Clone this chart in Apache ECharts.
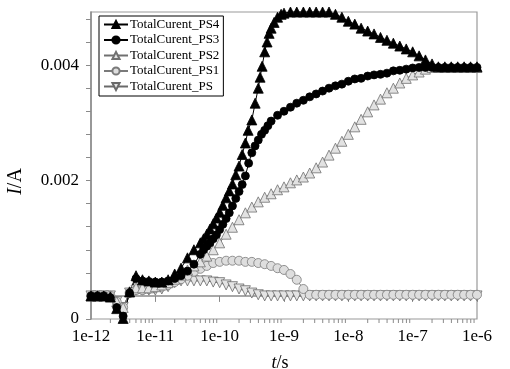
<!DOCTYPE html>
<html>
<head>
<meta charset="utf-8">
<script src="https://cdn.jsdelivr.net/npm/echarts@6/dist/echarts.min.js"></script>
<style>
html,body{margin:0;padding:0;background:#fff;}
#chart{width:510px;height:369px;}
</style>
</head>
<body>
<div id="chart"></div>
<script>
// time (s), common sample grid
const time = [
  1.00e-12,1.26e-12,1.58e-12,2.00e-12,2.51e-12,3.16e-12,3.98e-12,5.01e-12,6.31e-12,7.94e-12,
  1.00e-11,1.26e-11,1.58e-11,2.00e-11,2.51e-11,3.16e-11,3.98e-11,5.01e-11,6.31e-11,7.94e-11,
  1.00e-10,1.26e-10,1.58e-10,2.00e-10,2.51e-10,3.16e-10,3.98e-10,5.01e-10,6.31e-10,7.94e-10,
  1.00e-9,1.26e-9,1.58e-9,2.00e-9,2.51e-9,3.16e-9,3.98e-9,5.01e-9,6.31e-9,7.94e-9,
  1.00e-8,1.26e-8,1.58e-8,2.00e-8,2.51e-8,3.16e-8,3.98e-8,5.01e-8,6.31e-8,7.94e-8,
  1.00e-7,1.26e-7,1.58e-7,2.00e-7,2.51e-7,3.16e-7,3.98e-7,5.01e-7,6.31e-7,7.94e-7,
  1.00e-6
];
// current (A)
const ps4 = [
  0,0,0,-0.00002,-0.00022,-0.00039,0.00007,0.00035,0.00028,0.00026,
  0.00024,0.00024,0.00028,0.00038,0.00048,0.00066,0.0008,0.00092,0.00107,0.00125,
  0.00145,0.0017,0.00194,0.00225,0.00265,0.00305,0.0036,0.00423,0.00464,0.00483,
  0.0049,0.00492,0.00492,0.00492,0.00492,0.00492,0.00492,0.00492,0.00488,0.00483,
  0.00476,0.00471,0.00464,0.00459,0.00454,0.00448,0.00443,0.00438,0.00433,0.00428,
  0.00423,0.00416,0.00409,0.00402,0.00397,0.00397,0.00397,0.00397,0.00397,0.00397,
  0.00397
];
// extra PS4 samples on the steep rise
const ps4ExtraTime = [5.62e-11,7.08e-11,8.91e-11,1.12e-10,1.41e-10,1.78e-10,2.24e-10,2.77e-10,3.56e-10,4.25e-10,4.57e-10,5.46e-10,5.87e-10,7.02e-10,9.02e-10];
const ps4Extra     = [0.00099,0.00116,0.00135,0.00157,0.00182,0.0021,0.00245,0.00287,0.00334,0.00379,0.00398,0.0044,0.00455,0.00474,0.00488];
const ps3 = [
  0,0,0,-0.00003,-0.0002,-0.00035,0.00005,0.0003,0.00026,0.00025,
  0.00024,0.00024,0.00026,0.0003,0.00035,0.00043,0.00055,0.00072,0.00086,0.00099,
  0.00115,0.00134,0.00156,0.00181,0.00208,0.00248,0.0027,0.00287,0.00303,0.00313,
  0.0032,0.00327,0.00334,0.00339,0.00345,0.0035,0.00355,0.0036,0.00364,0.00367,
  0.00372,0.00376,0.00377,0.00381,0.00383,0.00384,0.00386,0.0039,0.00391,0.00393,
  0.00395,0.00396,0.00396,0.00396,0.00396,0.00396,0.00396,0.00396,0.00396,0.00396,
  0.00396
];
const ps3ExtraTime = [5.62e-11,7.08e-11,8.91e-11,1.12e-10,1.41e-10,1.78e-10,2.24e-10,2.82e-10,3.55e-10,4.47e-10,5.62e-10];
const ps3Extra     = [0.0008,0.00092,0.00106,0.00124,0.00144,0.00169,0.00193,0.0023,0.0026,0.0028,0.00295];
const ps2 = [
  0,0,0,0,-0.0001,-0.0002,0.00007,0.00014,0.00014,0.00014,
  0.00016,0.00019,0.00023,0.00029,0.00036,0.00045,0.00052,0.00059,0.00069,0.0008,
  0.00092,0.00107,0.00119,0.00132,0.00144,0.00154,0.00163,0.00171,0.00177,0.00184,
  0.00189,0.00196,0.00201,0.00206,0.00213,0.00222,0.00232,0.00244,0.00256,0.00268,
  0.0028,0.00293,0.00306,0.00319,0.00331,0.00341,0.00352,0.0036,0.00369,0.00377,
  0.00383,0.00388,0.00393,0.00396,0.00396,0.00396,0.00396,0.00396,0.00396,0.00396,
  0.00396
];
const ps1 = [
  0,0,0,0,-0.0001,-0.0002,0.00005,0.0001,0.0001,0.00012,
  0.00014,0.00016,0.00019,0.00024,0.00029,0.00035,0.00042,0.00047,0.00052,0.00057,
  0.00059,0.00061,0.00061,0.00061,0.00059,0.00059,0.00057,0.00055,0.00052,0.00048,
  0.00045,0.00038,0.00028,0.00012,0.00002,0.00002,0.00002,0.00002,0.00002,0.00002,
  0.00002,0.00002,0.00002,0.00002,0.00002,0.00002,0.00002,0.00002,0.00002,0.00002,
  0.00002,0.00002,0.00002,0.00002,0.00002,0.00002,0.00002,0.00002,0.00002,0.00002,
  0.00002
];
const ps0 = [
  0,0,0,0,-0.0001,-0.0002,0.00005,0.0001,0.0001,0.0001,
  0.0001,0.00012,0.00016,0.00023,0.00026,0.00026,0.00026,0.00026,0.00026,0.00024,
  0.00023,0.00019,0.00016,0.00012,0.00009,0.00005,0.00002,0,0,0,
  0,0,0,0,0,0,0,0,0,0,
  0,0,0,0,0,0,0,0,0,0,
  0,0,0,0,0,0,0,0,0,0,
  0
];
const seriesNames = ['TotalCurent_PS4','TotalCurent_PS3','TotalCurent_PS2','TotalCurent_PS1','TotalCurent_PS'];
const yTickText = [[-0.0004,'0'],[0.002,'0.002'],[0.004,'0.004']];
const decades = [1e-12,1e-11,1e-10,1e-9,1e-8,1e-7];
const minorMantissa = [2,3,4,5,6,7,8,9];

const FONT = '"Liberation Serif", "DejaVu Serif", serif';
const Y_MIN = -0.0004, Y_MAX = 0.00492;
function pairs(vals, extraT, extraV) {
  const out = time.map((t,i)=>[t, vals[i]]);
  if (extraT) extraT.forEach((t,i)=>out.push([t, extraV[i]]));
  return out.sort((a,b)=>a[0]-b[0]);
}
const minorData = [];
decades.forEach(d => minorMantissa.forEach(m => minorData.push([m*d, Y_MIN])));

function lineSeries(name, data, symbol, size, fill, stroke, lineColor, rotate) {
  return {
    name, type:'line', data, symbol, symbolSize:size, symbolRotate: rotate||0,
    showSymbol:true, showAllSymbol:true, smooth:false, clip:false,
    lineStyle:{color:lineColor, width:1},
    itemStyle:{color:fill, borderColor:stroke, borderWidth:0.8},
    emphasis:{disabled:true}, animation:false
  };
}

const chart = echarts.init(document.getElementById('chart'), null, {renderer:'canvas'});
chart.setOption({
  animation:false,
  backgroundColor:'#fff',
  grid:{left:91, right:33, top:12, bottom:50, outerBoundsMode:'none', containLabel:false,
    show:true, borderColor:'#9a9a9a', borderWidth:1.2, backgroundColor:'transparent'},
  legend:{
    data: seriesNames,
    orient:'vertical', left:99, top:16,
    backgroundColor:'#fff', borderColor:'#000', borderWidth:1,
    padding:[2,4,3,4], itemGap:2.5, itemWidth:24, itemHeight:9,
    textStyle:{fontFamily:FONT, fontSize:13, color:'#000', padding:[0,0,0,-3]},
    selectedMode:false
  },
  xAxis:{
    type:'log', logBase:10, min:1e-12, max:1e-6,
    name:'{it|t}/s', nameLocation:'middle', nameGap:35,
    nameTextStyle:{fontFamily:FONT, fontSize:18, color:'#000', padding:[0,8,0,0],
      rich:{it:{fontStyle:'italic', fontFamily:FONT, fontSize:18, color:'#000'}}},
    axisLine:{lineStyle:{color:'#8a8a8a', width:1.5}},
    axisTick:{show:true, inside:false, length:6, lineStyle:{color:'#8a8a8a', width:1}},
    splitLine:{show:false},
    axisLabel:{fontFamily:FONT, fontSize:17, color:'#000', margin:9,
      formatter: v => '1e' + Math.round(Math.log10(v))}
  },
  yAxis:{
    type:'value', min:Y_MIN, max:Y_MAX, interval:0.0004,
    name:'{it|I}/A', nameLocation:'middle', nameGap:65, nameRotate:90,
    nameTextStyle:{fontFamily:FONT, fontSize:20, color:'#000', padding:[0,32,0,0],
      rich:{it:{fontStyle:'italic', fontFamily:FONT, fontSize:20, color:'#000'}}},
    axisLine:{show:true, lineStyle:{color:'#8a8a8a', width:1.5}},
    axisTick:{show:true, inside:false, length:5, lineStyle:{color:'#8a8a8a', width:1}},
    splitLine:{show:false},
    axisLabel:{fontFamily:FONT, fontSize:17, color:'#000', margin:12, showMaxLabel:false,
      formatter: v => { const f = yTickText.find(p => Math.abs(p[0]-v) < 1e-9); return f ? f[1] : ''; }}
  },
  series:[
    {
      type:'custom', name:'minorTicks', data:minorData, clip:false, silent:true, z:1,
      renderItem:(params, api) => {
        const p = api.coord([api.value(0), api.value(1)]);
        return {type:'line', shape:{x1:p[0], y1:p[1], x2:p[0], y2:p[1]+4},
          style:{stroke:'#8a8a8a', lineWidth:1}};
      }
    },
    lineSeries('TotalCurent_PS', pairs(ps0), 'triangle', 10, '#e4e4e4', '#6a6a6a', '#6a6a6a', 180),
    lineSeries('TotalCurent_PS1', pairs(ps1), 'circle', 9, '#dedede', '#7a7a7a', '#7a7a7a'),
    lineSeries('TotalCurent_PS2', pairs(ps2), 'triangle', 10, '#e2e2e2', '#707070', '#707070'),
    lineSeries('TotalCurent_PS3', pairs(ps3, ps3ExtraTime, ps3Extra), 'circle', 8, '#000', '#000', '#000'),
    lineSeries('TotalCurent_PS4', pairs(ps4, ps4ExtraTime, ps4Extra), 'triangle', 10, '#000', '#000', '#000')
  ]
});
</script>
</body>
</html>
